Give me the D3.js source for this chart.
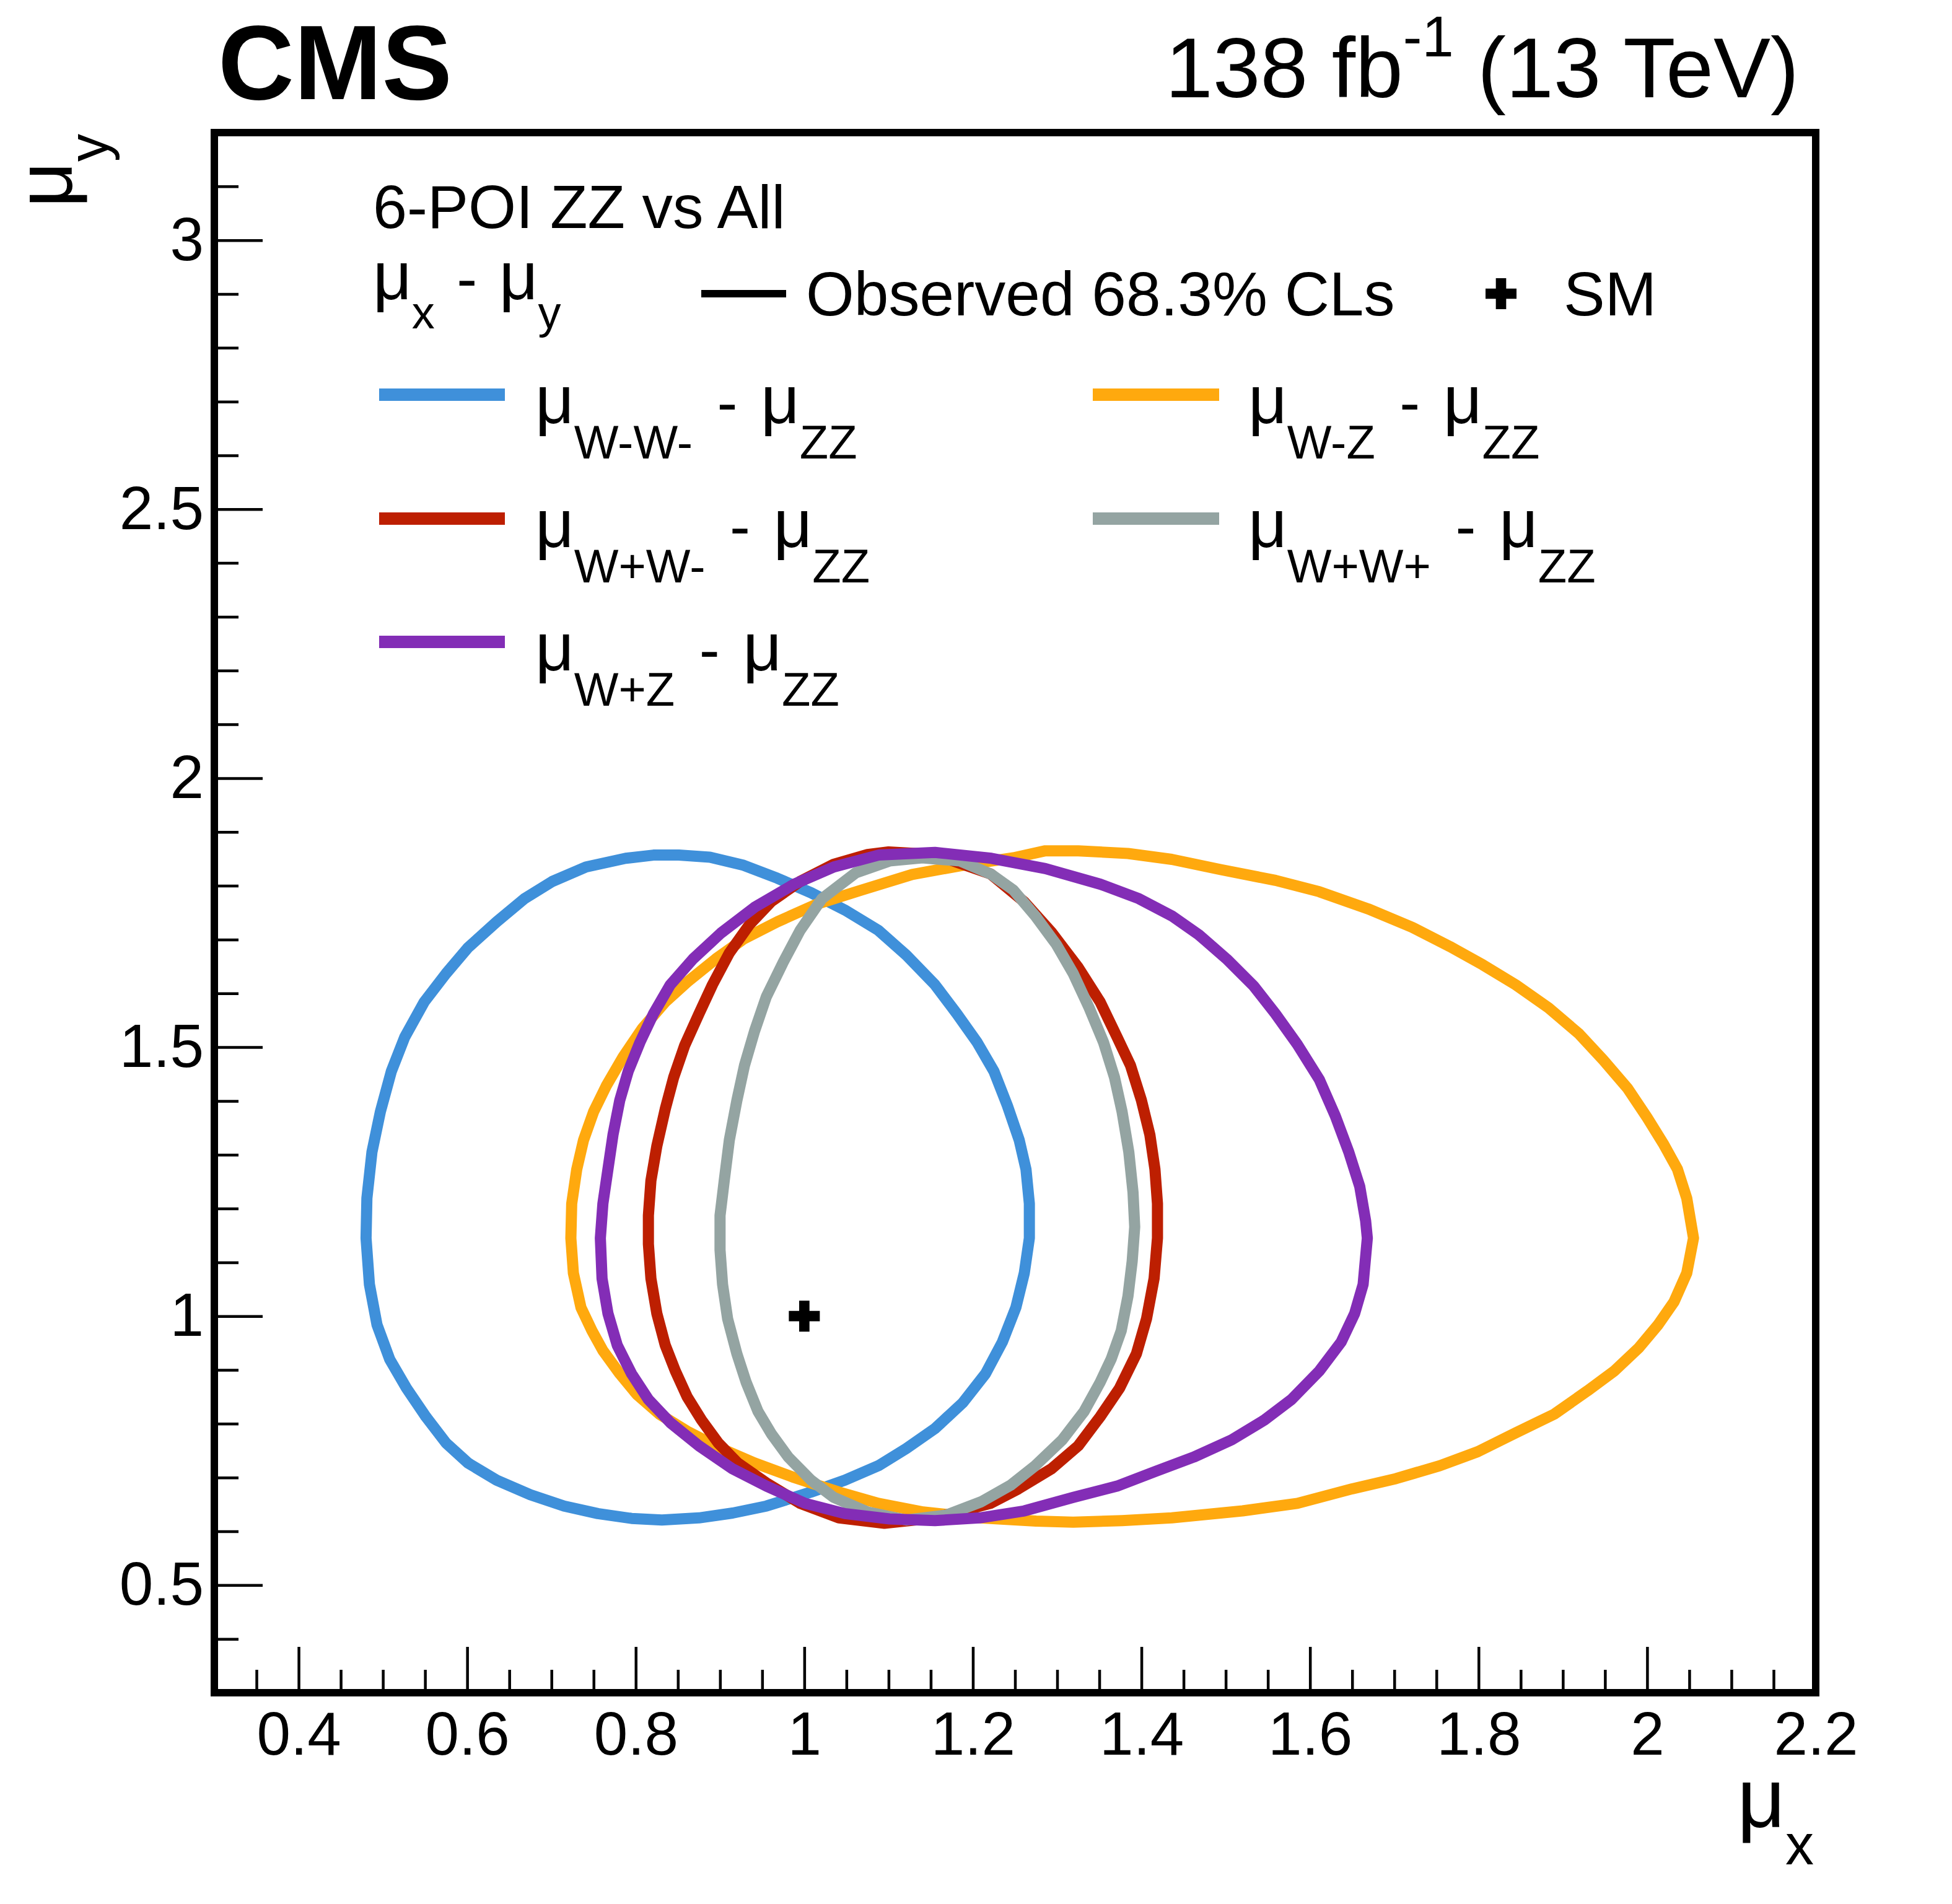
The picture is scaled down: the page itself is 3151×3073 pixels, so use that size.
<!DOCTYPE html>
<html lang="en">
<head>
<meta charset="UTF-8">
<title>6-POI ZZ vs All contours</title>
<script src="https://cdn.jsdelivr.net/npm/d3@7"></script>
<style>
  body { margin: 0; background: #fff; }
  svg text { font-family: "Liberation Sans", Arial, Helvetica, sans-serif; white-space: pre; }
</style>
</head>
<body>
<script>
// contour points [mu_x, mu_y]
const contourWmWm = [[0.851,1.857],[0.888,1.853],[0.928,1.838],[0.968,1.814],[1.008,1.787],[1.048,1.755],[1.088,1.717],[1.121,1.671],[1.155,1.616],[1.181,1.562],[1.205,1.509],[1.225,1.455],[1.241,1.391],[1.255,1.327],[1.263,1.273],[1.267,1.209],[1.267,1.145],[1.261,1.080],[1.251,1.016],[1.235,0.952],[1.215,0.893],[1.188,0.839],[1.155,0.791],[1.121,0.754],[1.088,0.722],[1.048,0.695],[1.008,0.673],[0.955,0.647],[0.915,0.634],[0.875,0.625],[0.831,0.621],[0.795,0.624],[0.755,0.633],[0.715,0.647],[0.675,0.668],[0.635,0.695],[0.601,0.727],[0.575,0.764],[0.551,0.813],[0.528,0.866],[0.508,0.920],[0.493,0.984],[0.484,1.059],[0.480,1.145],[0.481,1.219],[0.487,1.305],[0.497,1.380],[0.510,1.455],[0.526,1.519],[0.549,1.584],[0.575,1.637],[0.601,1.685],[0.635,1.733],[0.668,1.776],[0.701,1.808],[0.741,1.835],[0.788,1.851],[0.821,1.857]];
const contourWmZ = [[1.286,1.865],[1.325,1.865],[1.384,1.860],[1.436,1.849],[1.494,1.830],[1.559,1.810],[1.611,1.789],[1.669,1.757],[1.721,1.723],[1.766,1.687],[1.805,1.653],[1.844,1.616],[1.883,1.573],[1.919,1.525],[1.948,1.476],[1.977,1.423],[2.000,1.369],[2.019,1.321],[2.036,1.273],[2.047,1.219],[2.055,1.145],[2.047,1.080],[2.032,1.027],[2.013,0.984],[1.990,0.941],[1.961,0.898],[1.929,0.861],[1.890,0.818],[1.844,0.783],[1.799,0.748],[1.754,0.722],[1.702,0.698],[1.650,0.679],[1.585,0.652],[1.520,0.638],[1.436,0.625],[1.377,0.620],[1.319,0.617],[1.275,0.619],[1.208,0.625],[1.141,0.636],[1.088,0.652],[1.041,0.673],[0.988,0.700],[0.941,0.727],[0.901,0.754],[0.861,0.786],[0.828,0.818],[0.801,0.855],[0.781,0.893],[0.761,0.936],[0.748,0.973],[0.735,1.016],[0.726,1.080],[0.723,1.145],[0.724,1.209],[0.730,1.273],[0.738,1.327],[0.750,1.380],[0.765,1.428],[0.785,1.482],[0.808,1.535],[0.835,1.584],[0.861,1.621],[0.895,1.664],[0.928,1.701],[0.968,1.733],[1.015,1.766],[1.068,1.792],[1.128,1.821],[1.188,1.838],[1.248,1.852]];
const contourWpWm = [[1.100,1.863],[1.155,1.858],[1.221,1.822],[1.261,1.770],[1.293,1.714],[1.325,1.648],[1.351,1.584],[1.371,1.519],[1.387,1.466],[1.400,1.401],[1.410,1.337],[1.416,1.273],[1.419,1.209],[1.419,1.145],[1.415,1.070],[1.406,0.995],[1.394,0.930],[1.374,0.866],[1.351,0.813],[1.325,0.759],[1.293,0.716],[1.254,0.679],[1.221,0.652],[1.155,0.625],[1.095,0.615],[1.041,0.625],[0.995,0.652],[0.955,0.690],[0.921,0.727],[0.898,0.764],[0.878,0.807],[0.861,0.850],[0.847,0.898],[0.835,0.946],[0.825,1.005],[0.818,1.070],[0.815,1.134],[0.815,1.187],[0.818,1.252],[0.825,1.316],[0.835,1.385],[0.845,1.444],[0.858,1.503],[0.875,1.562],[0.891,1.616],[0.911,1.675],[0.935,1.728],[0.961,1.771],[0.995,1.808],[1.035,1.840],[1.075,1.858]];
const contourWpWp = [[1.140,1.852],[1.185,1.846],[1.222,1.821],[1.248,1.792],[1.274,1.744],[1.299,1.691],[1.319,1.637],[1.338,1.573],[1.355,1.509],[1.368,1.444],[1.377,1.380],[1.385,1.305],[1.390,1.230],[1.392,1.166],[1.389,1.102],[1.384,1.037],[1.376,0.973],[1.364,0.920],[1.351,0.877],[1.332,0.823],[1.306,0.770],[1.274,0.722],[1.245,0.686],[1.210,0.655],[1.168,0.630],[1.121,0.621],[1.075,0.636],[1.035,0.663],[1.008,0.695],[0.981,0.738],[0.961,0.781],[0.945,0.823],[0.931,0.877],[0.920,0.930],[0.909,0.995],[0.903,1.059],[0.900,1.123],[0.900,1.187],[0.905,1.252],[0.911,1.327],[0.920,1.401],[0.929,1.466],[0.941,1.530],[0.955,1.594],[0.975,1.658],[0.995,1.717],[1.021,1.776],[1.061,1.824],[1.101,1.846]];
const contourWpZ = [[1.155,1.862],[1.222,1.851],[1.286,1.832],[1.351,1.803],[1.397,1.776],[1.436,1.744],[1.468,1.709],[1.501,1.664],[1.533,1.614],[1.559,1.562],[1.585,1.505],[1.611,1.440],[1.630,1.372],[1.646,1.305],[1.659,1.241],[1.666,1.177],[1.668,1.145],[1.663,1.059],[1.653,1.005],[1.637,0.952],[1.611,0.898],[1.578,0.845],[1.546,0.807],[1.507,0.770],[1.462,0.738],[1.416,0.711],[1.371,0.684],[1.319,0.663],[1.261,0.638],[1.208,0.625],[1.155,0.620],[1.101,0.623],[1.048,0.633],[1.001,0.652],[0.955,0.684],[0.915,0.716],[0.875,0.759],[0.841,0.802],[0.815,0.845],[0.795,0.893],[0.778,0.946],[0.767,1.005],[0.760,1.070],[0.758,1.145],[0.761,1.209],[0.767,1.273],[0.773,1.337],[0.781,1.401],[0.791,1.455],[0.805,1.509],[0.821,1.562],[0.841,1.616],[0.868,1.664],[0.901,1.712],[0.941,1.760],[0.988,1.803],[1.035,1.835],[1.088,1.857]];

const smPoint = [1.0, 1.0];

const seriesKeys   = ["W-W-", "W-Z", "W+W-", "W+W+", "W+Z"];   // drawing order
const seriesColors = ["#3f90da", "#ffa90e", "#bd1f01", "#94a4a2", "#832db6"];
const seriesPoints = [contourWmWm, contourWmZ, contourWpWm, contourWpWp, contourWpZ];

// legend layout: [key, column, row]
const legendOrder = [["W-W-", 0, 0], ["W+W-", 0, 1], ["W+Z", 0, 2], ["W-Z", 1, 0], ["W+W+", 1, 1]];

const xMajor = [0.4, 0.6, 0.8, 1, 1.2, 1.4, 1.6, 1.8, 2, 2.2];
const yMajor = [0.5, 1, 1.5, 2, 2.5, 3];
const xMinor = d3.range(7, 44).filter(i => i % 4 !== 0).map(i => +(i * 0.05).toFixed(2));
const yMinor = d3.range(4, 32).filter(i => i % 5 !== 0).map(i => +(i * 0.1).toFixed(1));

const W = 3151, H = 3073;
const frame = {left: 346, right: 2931, top: 214, bottom: 2732};

const svg = d3.select("body").append("svg")
    .attr("width", W).attr("height", H)
    .attr("viewBox", [0, 0, W, H]);

const x = d3.scaleLinear().domain([0.3, 2.2]).range([frame.left, frame.right]);
const y = d3.scaleLinear().domain([0.3, 3.2]).range([frame.bottom, frame.top]);

// axes: ticks point inward, labels outside
const fmt = d3.format("~g");
function styleAxis(g) {
    g.select(".domain").remove();
    g.selectAll(".tick line").attr("stroke", "#000").attr("stroke-width", 4.5);
    g.selectAll("text").attr("font-size", 98).attr("fill", "#000")
        .attr("font-family", "'Liberation Sans', Arial, sans-serif");
}
svg.append("g").attr("transform", `translate(0,${frame.bottom})`)
    .call(d3.axisBottom(x).tickValues(xMinor).tickSize(-37).tickFormat(""))
    .call(styleAxis);
svg.append("g").attr("transform", `translate(0,${frame.bottom})`)
    .call(d3.axisBottom(x).tickValues(xMajor).tickSize(-74).tickPadding(30).tickFormat(fmt))
    .call(styleAxis);
svg.append("g").attr("transform", `translate(${frame.left},0)`)
    .call(d3.axisLeft(y).tickValues(yMinor).tickSize(-39).tickFormat(""))
    .call(styleAxis);
svg.append("g").attr("transform", `translate(${frame.left},0)`)
    .call(d3.axisLeft(y).tickValues(yMajor).tickSize(-78).tickPadding(17).tickFormat(fmt))
    .call(styleAxis);

// contours
const line = d3.line().x(d => x(d[0])).y(d => y(d[1])).curve(d3.curveLinearClosed);
svg.append("g").selectAll("path")
    .data(seriesKeys.map((k, i) => ({key: k, color: seriesColors[i], pts: seriesPoints[i]})))
    .join("path")
    .attr("d", d => line(d.pts))
    .attr("fill", "none")
    .attr("stroke", d => d.color)
    .attr("stroke-width", 18)
    .attr("stroke-linejoin", "round");

// SM marker
const cross = d3.symbol(d3.symbolCross, 5 * Math.pow(50 / 3, 2));
svg.append("path")
    .attr("d", cross())
    .attr("transform", `translate(${x(smPoint[0])},${y(smPoint[1])})`)
    .attr("fill", "#000");

// frame
svg.append("rect")
    .attr("x", frame.left).attr("y", frame.top)
    .attr("width", frame.right - frame.left).attr("height", frame.bottom - frame.top)
    .attr("fill", "none").attr("stroke", "#000").attr("stroke-width", 12);

// text with mu and subscripts; parts are [string, kind, dx]
function richText(parent, px, py, parts, base, sub, drop) {
    const t = parent.append("text").attr("x", px).attr("y", py).attr("font-size", base);
    let off = 0;
    parts.forEach(p => {
        const want = p[1] === "sub" ? drop : 0;
        const ts = t.append("tspan").text(p[0]);
        if (want !== off) { ts.attr("dy", want - off); off = want; }
        if (p[2]) ts.attr("dx", p[2]);
        if (p[1] === "sub") ts.attr("font-size", sub);
        if (p[1] === "mu") ts.attr("font-size", base * 1.1);
    });
    return t;
}

// header texts
svg.append("text").attr("x", 352).attr("y", 160)
    .attr("font-size", 170).attr("font-weight", "bold").text("CMS");
const lumi = svg.append("text").attr("x", 2904).attr("y", 157)
    .attr("font-size", 138).attr("text-anchor", "end");
lumi.append("tspan").text("138 fb");
lumi.append("tspan").attr("font-size", 92).attr("dy", -66).text("-1");
lumi.append("tspan").attr("dy", 66).text(" (13 TeV)");

// axis titles
richText(svg, 2928, 2949, [["μ", ""], ["x", "sub"]], 135, 92, 60)
    .attr("text-anchor", "end");
richText(svg, 0, 0, [["μ", ""], ["y", "sub"]], 128, 90, 58)
    .attr("text-anchor", "end")
    .attr("transform", "translate(116,216) rotate(-90)");

// legend
const leg = svg.append("g");
leg.append("text").attr("x", 602).attr("y", 368).attr("font-size", 99).text("6-POI ZZ vs All");
richText(leg, 602, 483, [["μ", "mu"], ["x", "sub"], [" - ", "", 8], ["μ", "mu", 8], ["y", "sub"]], 99, 74, 47);
leg.append("line").attr("x1", 1132).attr("x2", 1269).attr("y1", 474).attr("y2", 474)
    .attr("stroke", "#000").attr("stroke-width", 12);
leg.append("text").attr("x", 1301).attr("y", 509).attr("font-size", 100).text("Observed 68.3% CLs");
leg.append("path").attr("d", cross()).attr("transform", "translate(2423,474)").attr("fill", "#000");
leg.append("text").attr("x", 2524).attr("y", 509).attr("font-size", 100).text("SM");

const colX = [[612, 815, 864], [1764, 1968, 2015]];
const rowY = [637, 837, 1036];
legendOrder.forEach(([key, c, r]) => {
    const i = seriesKeys.indexOf(key);
    leg.append("line")
        .attr("x1", colX[c][0]).attr("x2", colX[c][1])
        .attr("y1", rowY[r]).attr("y2", rowY[r])
        .attr("stroke", seriesColors[i]).attr("stroke-width", 20);
    richText(leg, colX[c][2], rowY[r] + 46,
        [["μ", "mu"], [key, "sub"], [" - ", "", 12], ["μ", "mu", 10], ["ZZ", "sub"]], 99, 76, 57);
});
</script>
</body>
</html>
